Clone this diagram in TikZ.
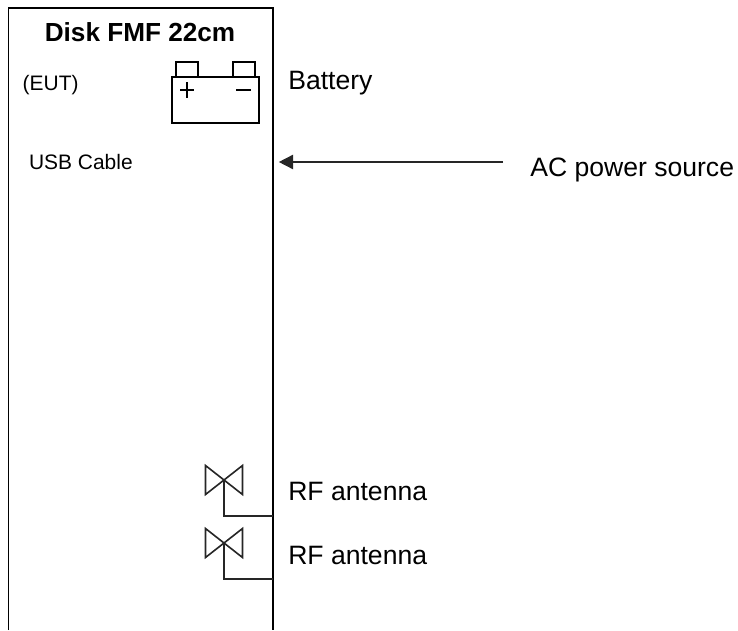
\documentclass[tikz,border=0pt]{standalone}
\usepackage{fontspec}
\setmainfont{Liberation Sans}
\usetikzlibrary{arrows.meta}
\tikzset{
  wall/.style={line width=1.4pt, draw=black, line cap=butt},
  batt/.style={line width=1.05pt, draw=black, fill=white, line join=miter},
  wire/.style={line width=1.15pt, draw=black!85, line join=miter},
  feed/.style={line width=1.1pt, draw=black!85, -{Triangle[length=0.36cm, width=0.36cm]}},
  titlelabel/.style={font=\fontsize{18.6}{22}\selectfont\bfseries, inner sep=0pt},
  biglabel/.style={font=\fontsize{18.9}{22}\selectfont, anchor=base west, inner sep=0pt},
  smalllabel/.style={font=\fontsize{14.9}{18}\selectfont, anchor=base west, inner sep=0pt},
}

\begin{document}
\begin{tikzpicture}
\useasboundingbox (0,0) rectangle (18.45,15.75);
% enclosure, open at the bottom
\coordinate (wallbl) at (0.2125,0);
\coordinate (walltl) at (0.2125,15.55);
\coordinate (walltr) at (6.825,15.55);
\coordinate (wallbr) at (6.825,0);
\draw[wall] (wallbl) -- (walltl) -- (walltr) -- (wallbr);
\node[titlelabel] (title) at (3.5,14.955) {Disk FMF 22cm};
\node[smalllabel] (eut) at (0.56,13.485) {(EUT)};
\node[smalllabel] (usb) at (0.72,11.505) {USB Cable};
% battery
\draw[batt] (4.4,13.825) rectangle (4.95,14.2);
\draw[batt] (5.825,13.825) rectangle (6.375,14.2);
\draw[batt] (4.3,12.675) rectangle (6.475,13.825);
\draw[batt] (4.5,13.5) -- (4.86,13.5);
\draw[batt] (4.68,13.3) -- (4.68,13.7);
\draw[batt] (5.9,13.5) -- (6.28,13.5);
\node[biglabel] (battery) at (7.2,13.5) {Battery};
% power feed
\coordinate (acstart) at (12.575,11.7);
\coordinate (acend) at (6.97,11.7);
\draw[feed] (acstart) -- (acend);
\node[biglabel] (acsource) at (13.25,11.33) {AC power source};
% first antenna
\coordinate (anta) at (5.6,3.75);
\coordinate (antafoot) at (5.6,2.85);
\coordinate (antawall) at (6.825,2.85);
\draw[wire] (anta) -- ++(-0.4625,0.3625) -- ++(0,-0.725) -- (anta) -- ++(0.4625,0.3625) -- ++(0,-0.725) -- cycle;
\draw[wire] (anta) -- (antafoot) -- (antawall);
\node[biglabel] (rfa) at (7.2,3.23) {RF antenna};
% second antenna
\coordinate (antb) at (5.6,2.175);
\coordinate (antbfoot) at (5.6,1.275);
\coordinate (antbwall) at (6.825,1.275);
\draw[wire] (antb) -- ++(-0.4625,0.3625) -- ++(0,-0.725) -- (antb) -- ++(0.4625,0.3625) -- ++(0,-0.725) -- cycle;
\draw[wire] (antb) -- (antbfoot) -- (antbwall);
\node[biglabel] (rfb) at (7.2,1.63) {RF antenna};
\end{tikzpicture}
\end{document}
